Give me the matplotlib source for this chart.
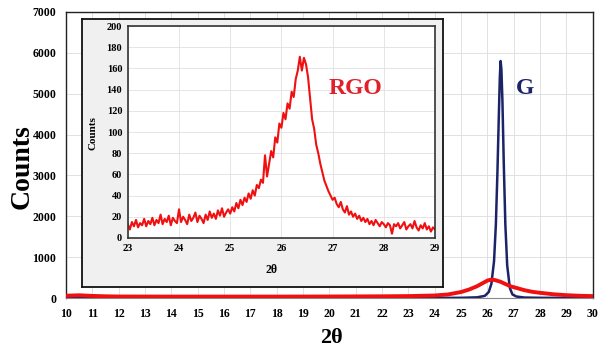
import matplotlib.pyplot as plt
import numpy as np

# main plot: graphite (G) and reduced graphene oxide (RGO) XRD patterns
g_theta = [10, 20, 24, 25, 25.6, 25.9, 26.05, 26.15, 26.25, 26.32, 26.38, 26.43, 26.47,
           26.5, 26.53, 26.57, 26.62, 26.68, 26.75, 26.85, 26.95, 27.1, 27.4, 28, 30]
g_counts = [5, 5, 6, 8, 20, 55, 150, 350, 900, 1800, 3100, 4400, 5400,
            5800, 5600, 4800, 3300, 1800, 800, 250, 90, 40, 15, 8, 5]

rgo_theta = [10, 10.5, 11, 11.5, 12, 14, 16, 18, 20, 22, 23, 24, 24.5, 25, 25.3, 25.6,
             25.8, 26.0, 26.15, 26.3, 26.5, 26.7, 26.9, 27.1, 27.4, 27.7, 28, 28.5, 29, 29.5, 30]
rgo_counts = [60, 70, 55, 45, 40, 38, 38, 38, 40, 45, 50, 65, 90, 150, 210, 290,
              360, 430, 455, 440, 400, 340, 285, 250, 195, 155, 130, 95, 72, 58, 50]

# inset: RGO scan 23-29 deg
inset_counts = [13, 8, 15, 11, 17, 10, 14, 12, 18, 11, 16, 13, 19,
                12, 17, 14, 22, 13, 18, 15, 21, 12, 19, 16, 14, 27,
                15, 20, 17, 13, 22, 16, 19, 24, 15, 21, 18, 14,
                22, 17, 25, 19, 23, 18, 26, 21, 28, 20, 24, 27, 23,
                29, 25, 33, 28, 36, 31, 38, 34, 42, 37,
                45, 40, 50, 47, 55, 52, 78,
                58, 70, 82, 76, 95, 90, 108, 104,
                118, 112, 127, 122, 138, 133, 150, 158,
                171, 158, 170, 164, 152,
                132, 112, 103, 88, 80, 70, 62,
                54, 49, 44, 40, 36, 38, 32, 29, 34,
                27, 24, 30, 22, 25, 20, 23, 18, 21, 16, 19,
                15, 18, 13, 16, 12, 17, 14, 11, 15, 13, 10, 14, 12, 4, 13,
                11, 14, 9, 12, 15, 8, 11, 13, 9, 16, 10, 7, 12, 9, 14, 8, 11, 6, 10, 8]
inset_theta = np.linspace(23, 29, len(inset_counts))

plt.rcParams['font.family'] = ['Liberation Serif', 'DejaVu Serif']
plt.rcParams['font.weight'] = 'bold'

navy = '#1b2468'
red = '#f01010'

fig = plt.figure(figsize=(6, 3.52), dpi=100)

ax = fig.add_axes([0.110, 0.153, 0.878, 0.813])
ax.plot(g_theta, g_counts, color=navy, lw=1.8, zorder=3)
ax.plot(rgo_theta, rgo_counts, color=red, lw=2.8, zorder=4)
ax.set_xlim(10, 30)
ax.set_ylim(0, 7000)
ax.set_xticks(range(10, 31))
ax.set_yticks(range(0, 7001, 1000))
ax.grid(color='#dcdcdc', lw=0.6)
ax.set_axisbelow(True)
ax.tick_params(length=0, labelsize=8.5, pad=7)
for s in ['left', 'top', 'right']:
    ax.spines[s].set_color('#222222')
    ax.spines[s].set_linewidth(1.0)
ax.spines['bottom'].set_color('#888888')
ax.text(27.43, 5140, 'G', color=navy, fontsize=17, fontweight='bold', ha='center', va='center')

fig.text(0.037, 0.526, 'Counts', rotation=90, fontsize=20, fontweight='bold', ha='center', va='center')
fig.text(0.552, 0.040, '2θ', fontsize=16, fontweight='bold', ha='center', va='center')

# gray box behind the inset
bg = fig.add_axes([0.137, 0.185, 0.602, 0.761])
bg.set_facecolor('#f0f0f0')
bg.set_xticks([])
bg.set_yticks([])
for s in bg.spines.values():
    s.set_color('#111111')
    s.set_linewidth(1.3)

ax_in = fig.add_axes([0.213, 0.324, 0.512, 0.602])
ax_in.plot(inset_theta, inset_counts, color=red, lw=1.5)
ax_in.set_xlim(23, 29)
ax_in.set_ylim(0, 200)
ax_in.set_xticks(range(23, 30))
ax_in.set_yticks(range(0, 201, 20))
ax_in.grid(color='#e0e0e0', lw=0.6)
ax_in.set_axisbelow(True)
ax_in.tick_params(length=0, labelsize=7.5, pad=4)
for s in ax_in.spines.values():
    s.set_color('#333333')
    s.set_linewidth(1.2)
ax_in.text(27.45, 141, 'RGO', color='#e0202a', fontsize=17, fontweight='bold', ha='center', va='center')

fig.text(0.155, 0.622, 'Counts', rotation=90, fontsize=8, fontweight='bold', ha='center', va='center')
fig.text(0.453, 0.233, '2θ', fontsize=8.5, fontweight='bold', ha='center', va='center')

fig.savefig('out.png', dpi=100)
